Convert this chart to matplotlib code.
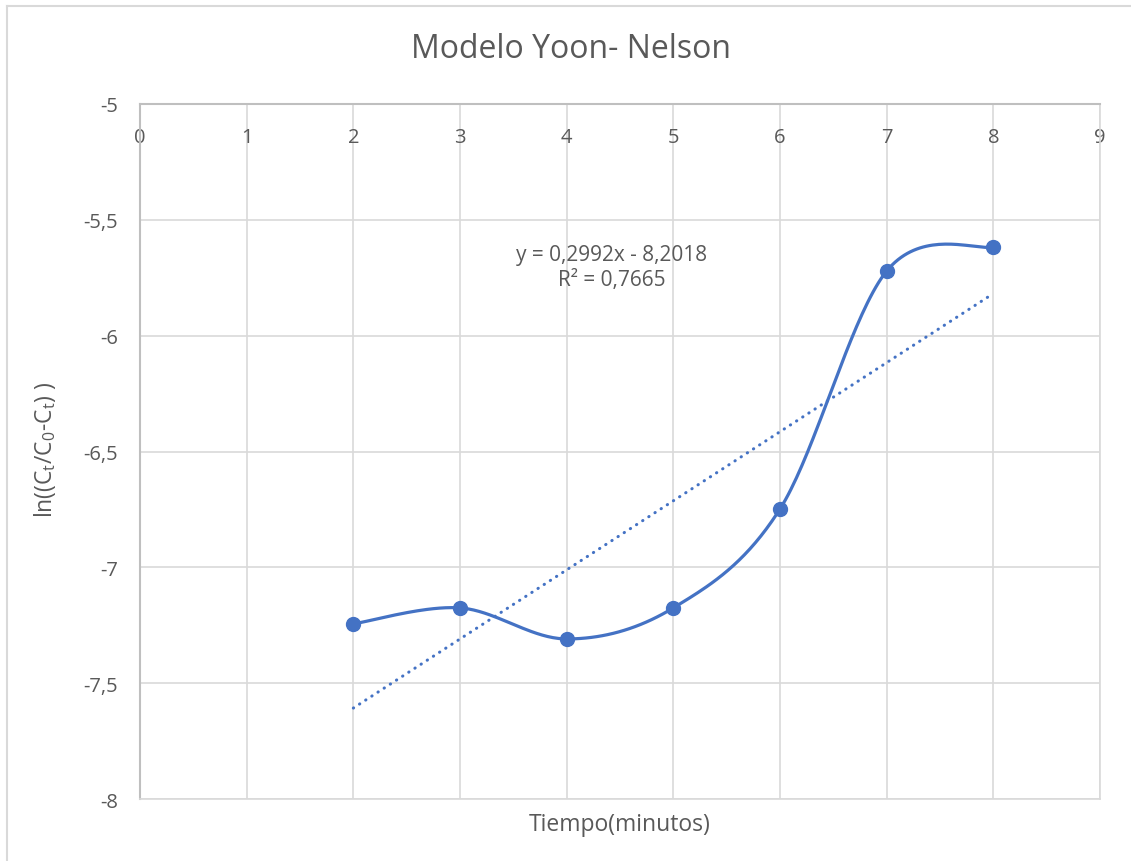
import numpy as np
import matplotlib.pyplot as plt

# Datos: tiempo (min) vs ln(Ct/(C0-Ct))
tiempo = [2, 3, 4, 5, 6, 7, 8]
ln_c = [-7.244, -7.175, -7.309, -7.175, -6.748, -5.721, -5.617]

x_ticks = [0, 1, 2, 3, 4, 5, 6, 7, 8, 9]
y_ticks = [-8, -7.5, -7, -6.5, -6, -5.5, -5]

azul = '#4472C4'
gris_txt = '#595959'
plt.rcParams['font.family'] = ['Open Sans', 'DejaVu Sans']


def catmull_rom(x, y, n=40):
    # curva suavizada tipo Excel
    x = np.asarray(x, float)
    y = np.asarray(y, float)
    px = np.concatenate([[x[0]], x, [x[-1]]])
    py = np.concatenate([[y[0]], y, [y[-1]]])
    xs, ys = [], []
    t = np.linspace(0, 1, n)
    for i in range(1, len(px) - 2):
        p0, p1, p2, p3 = [np.array([px[j], py[j]]) for j in (i - 1, i, i + 1, i + 2)]
        c1 = p1 + (p2 - p0) / 6
        c2 = p2 - (p3 - p1) / 6
        b = ((1 - t) ** 3)[:, None] * p1 + (3 * (1 - t) ** 2 * t)[:, None] * c1 \
            + (3 * (1 - t) * t ** 2)[:, None] * c2 + (t ** 3)[:, None] * p2
        xs.extend(b[:, 0])
        ys.extend(b[:, 1])
    return np.array(xs), np.array(ys)


fig = plt.figure(figsize=(11.31, 8.62), dpi=100)
ax = fig.add_axes([0.1238, 0.0719, 0.9726 - 0.1238, 0.8782 - 0.0719])

# borde del gráfico
fig.add_artist(plt.Line2D([0.0062, 1], [0.9919, 0.9919], color='#d9d9d9', lw=1.5, transform=fig.transFigure))
fig.add_artist(plt.Line2D([0.0062, 0.0062], [0, 0.9919], color='#d9d9d9', lw=1.5, transform=fig.transFigure))

ax.set_xlim(0, 9)
ax.set_ylim(-8, -5)
ax.set_xticks(x_ticks)
ax.set_yticks(y_ticks)
ax.grid(True, color='#d9d9d9', lw=1.2)
ax.set_axisbelow(True)
for s in ['right', 'bottom']:
    ax.spines[s].set_color('#d9d9d9')
    ax.spines[s].set_linewidth(1.2)
for s in ['top', 'left']:
    ax.spines[s].set_color('#bfbfbf')
    ax.spines[s].set_linewidth(1.5)

ax.xaxis.tick_top()
ax.tick_params(axis='x', length=0, labelsize=14.5, labelcolor=gris_txt, pad=-31)
ax.tick_params(axis='y', length=0, labelsize=14.5, labelcolor=gris_txt, pad=16)
ax.set_xticklabels([str(v) for v in x_ticks])
ax.set_yticklabels([('%g' % v).replace('.', ',') for v in y_ticks])

# serie suavizada
sx, sy = catmull_rom(tiempo, ln_c)
ax.plot(sx, sy, color=azul, lw=2.3, solid_capstyle='round')
ax.plot(tiempo, ln_c, 'o', color=azul, ms=10)

# línea de tendencia
m, b = np.polyfit(tiempo, ln_c, 1)
tx = np.array([tiempo[0], tiempo[-1]])
ax.plot(tx, m * tx + b, color=azul, lw=2.2, linestyle=(0, (0.1, 2.3)), dash_capstyle='round')

ax.text(4.425, -5.705, 'y = 0,2992x - 8,2018\nR² = 0,7665', ha='center', va='center',
        fontsize=15, color=gris_txt, linespacing=1.25)

fig.text(0.505, 0.942, 'Modelo Yoon- Nelson', ha='center', va='center', fontsize=23, color=gris_txt)
fig.text(0.548, 0.043, 'Tiempo(minutos)', ha='center', va='center', fontsize=16.5, color=gris_txt)
fig.text(0.040, 0.478, r'ln((C$_\mathregular{t}$/C$_\mathregular{0}$-C$_\mathregular{t}$) )', ha='center', va='center',
         rotation=90, fontsize=16.5, color=gris_txt)

fig.savefig('out.png', dpi=100)
